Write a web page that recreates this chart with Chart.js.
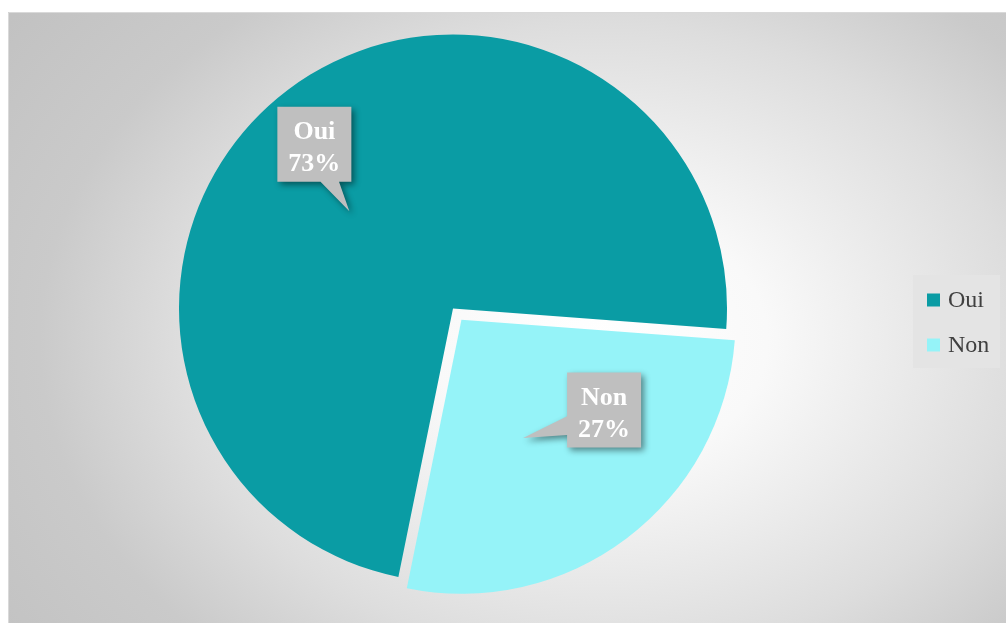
<!DOCTYPE html>
<html>
<head>
<meta charset="utf-8">
<script src="https://cdn.jsdelivr.net/npm/chart.js@4.4.1/dist/chart.umd.min.js"></script>
<style>
  html, body { margin: 0; padding: 0; background: #ffffff; }
  canvas { display: block; }
</style>
</head>
<body>
<canvas id="chart" width="1006" height="623"></canvas>
<script>
// Survey answers and their shares (percent)
const categories = ['Oui', 'Non'];
const shares = [73, 27];
const sliceColors = ['#0a9ca4', '#95f3f8'];
// Pull-out distance of each slice (Chart.js offset units)
const sliceOffsets = [0, 56];

// Callout placement: tip shift from the slice's mid-radius point, box centre shift from the tip
const calloutTipShift = [[-21, 12], [-21, 9]];
const calloutBoxShift = [[-35, -67], [81, -28]];

const SERIF = '"Liberation Serif", "Times New Roman", "DejaVu Serif", serif';

// Soft radial backdrop behind the whole chart frame
const backdrop = {
  id: 'backdrop',
  beforeDraw(chart) {
    const ctx = chart.ctx;
    const x0 = 8, y0 = 12, w = chart.width - x0, h = chart.height - y0;
    ctx.save();
    ctx.fillStyle = '#ffffff';
    ctx.fillRect(0, 0, chart.width, chart.height);
    ctx.beginPath();
    ctx.rect(x0, y0, w, h);
    ctx.clip();
    const cx = 600, cy = 340, rx = 560, ry = 420;
    ctx.translate(cx, cy);
    ctx.scale(1, ry / rx);
    const g = ctx.createRadialGradient(0, 0, 0, 0, 0, rx * 1.3);
    g.addColorStop(0, '#ffffff');
    g.addColorStop(0.23, '#f9f9f9');
    g.addColorStop(0.58, '#dddddd');
    g.addColorStop(0.77, '#cacaca');
    g.addColorStop(1, '#c2c2c2');
    ctx.fillStyle = g;
    ctx.fillRect(-2000, -2000, 4000, 4000);
    ctx.restore();
    ctx.save();
    ctx.strokeStyle = '#d9d9d9';
    ctx.lineWidth = 1;
    ctx.beginPath();
    ctx.moveTo(x0 + 0.5, chart.height);
    ctx.lineTo(x0 + 0.5, y0 + 0.5);
    ctx.lineTo(chart.width, y0 + 0.5);
    ctx.stroke();
    ctx.restore();
  }
};

// Rectangular callout with a wedge pointing at (tx, ty)
function drawCallout(ctx, bx, by, bw, bh, tx, ty) {
  const hc = bx + bw / 2, vc = by + bh / 2;
  const dx = tx - hc, dy = ty - vc;
  const dq = dx * bh / bw;
  const dz = Math.abs(dy) - Math.abs(dq);
  const x1 = bx + bw * (dx > 0 ? 7 : 2) / 12, x2 = bx + bw * (dx > 0 ? 10 : 5) / 12;
  const y1 = by + bh * (dy > 0 ? 7 : 2) / 12, y2 = by + bh * (dy > 0 ? 10 : 5) / 12;
  const r = bx + bw, b = by + bh;
  ctx.beginPath();
  ctx.moveTo(bx, by);
  if (dz > 0 && dy < 0) { ctx.lineTo(x1, by); ctx.lineTo(tx, ty); ctx.lineTo(x2, by); }
  ctx.lineTo(r, by);
  if (dz <= 0 && dx > 0) { ctx.lineTo(r, y1); ctx.lineTo(tx, ty); ctx.lineTo(r, y2); }
  ctx.lineTo(r, b);
  if (dz > 0 && dy > 0) { ctx.lineTo(x2, b); ctx.lineTo(tx, ty); ctx.lineTo(x1, b); }
  ctx.lineTo(bx, b);
  if (dz <= 0 && dx < 0) { ctx.lineTo(bx, y2); ctx.lineTo(tx, ty); ctx.lineTo(bx, y1); }
  ctx.closePath();
}

// Category / percentage callouts on each slice
const sliceCallouts = {
  id: 'sliceCallouts',
  afterDatasetsDraw(chart) {
    const ctx = chart.ctx;
    const meta = chart.getDatasetMeta(0);
    meta.data.forEach((arc, i) => {
      const p = arc.getProps(['x', 'y', 'startAngle', 'endAngle', 'outerRadius']);
      const mid = (p.startAngle + p.endAngle) / 2;
      const pull = (arc.options.offset || 0) / 4;
      const ax = p.x + Math.cos(mid) * (p.outerRadius / 2 + pull);
      const ay = p.y + Math.sin(mid) * (p.outerRadius / 2 + pull);
      const tx = ax + calloutTipShift[i][0];
      const ty = ay + calloutTipShift[i][1];
      const bcx = tx + calloutBoxShift[i][0];
      const bcy = ty + calloutBoxShift[i][1];
      const bw = 74, bh = 75;
      const bx = bcx - bw / 2, by = bcy - bh / 2;

      ctx.save();
      ctx.shadowColor = 'rgba(0,0,0,0.45)';
      ctx.shadowBlur = 6;
      ctx.shadowOffsetX = 3;
      ctx.shadowOffsetY = 3;
      ctx.fillStyle = '#bfbfbf';
      drawCallout(ctx, bx, by, bw, bh, tx, ty);
      ctx.fill();
      ctx.restore();

      ctx.save();
      ctx.fillStyle = '#ffffff';
      ctx.font = 'bold 26px ' + SERIF;
      ctx.textAlign = 'center';
      ctx.textBaseline = 'middle';
      ctx.fillText(categories[i], bcx, bcy - 12);
      ctx.fillText(shares[i] + '%', bcx, bcy + 20);
      ctx.restore();
    });
  }
};

// Legend box on the right
const sideLegend = {
  id: 'sideLegend',
  afterDraw(chart) {
    const ctx = chart.ctx;
    const boxX = 913, boxY = 275, boxW = 87, boxH = 93;
    ctx.save();
    ctx.fillStyle = '#e4e4e4';
    ctx.fillRect(boxX, boxY, boxW, boxH);
    ctx.font = '24px ' + SERIF;
    ctx.textBaseline = 'middle';
    ctx.textAlign = 'left';
    const colors = chart.data.datasets[0].backgroundColor;
    chart.data.labels.forEach((label, i) => {
      const cy = 300 + i * 45;
      ctx.fillStyle = colors[i];
      ctx.fillRect(927, cy - 6.5, 13, 13);
      ctx.fillStyle = '#404040';
      ctx.fillText(label, 948, cy + 1);
    });
    ctx.restore();
  }
};

new Chart(document.getElementById('chart'), {
  type: 'pie',
  data: {
    labels: categories,
    datasets: [{
      data: shares,
      backgroundColor: sliceColors,
      borderWidth: 0,
      offset: sliceOffsets,
      hoverOffset: 0
    }]
  },
  options: {
    responsive: false,
    devicePixelRatio: 1,
    animation: false,
    events: [],
    rotation: 191.5,
    radius: 274,
    layout: { padding: { left: 0, right: 100, top: 0, bottom: 6 } },
    plugins: {
      legend: { display: false },
      tooltip: { enabled: false }
    }
  },
  plugins: [backdrop, sliceCallouts, sideLegend]
});
</script>
</body>
</html>
